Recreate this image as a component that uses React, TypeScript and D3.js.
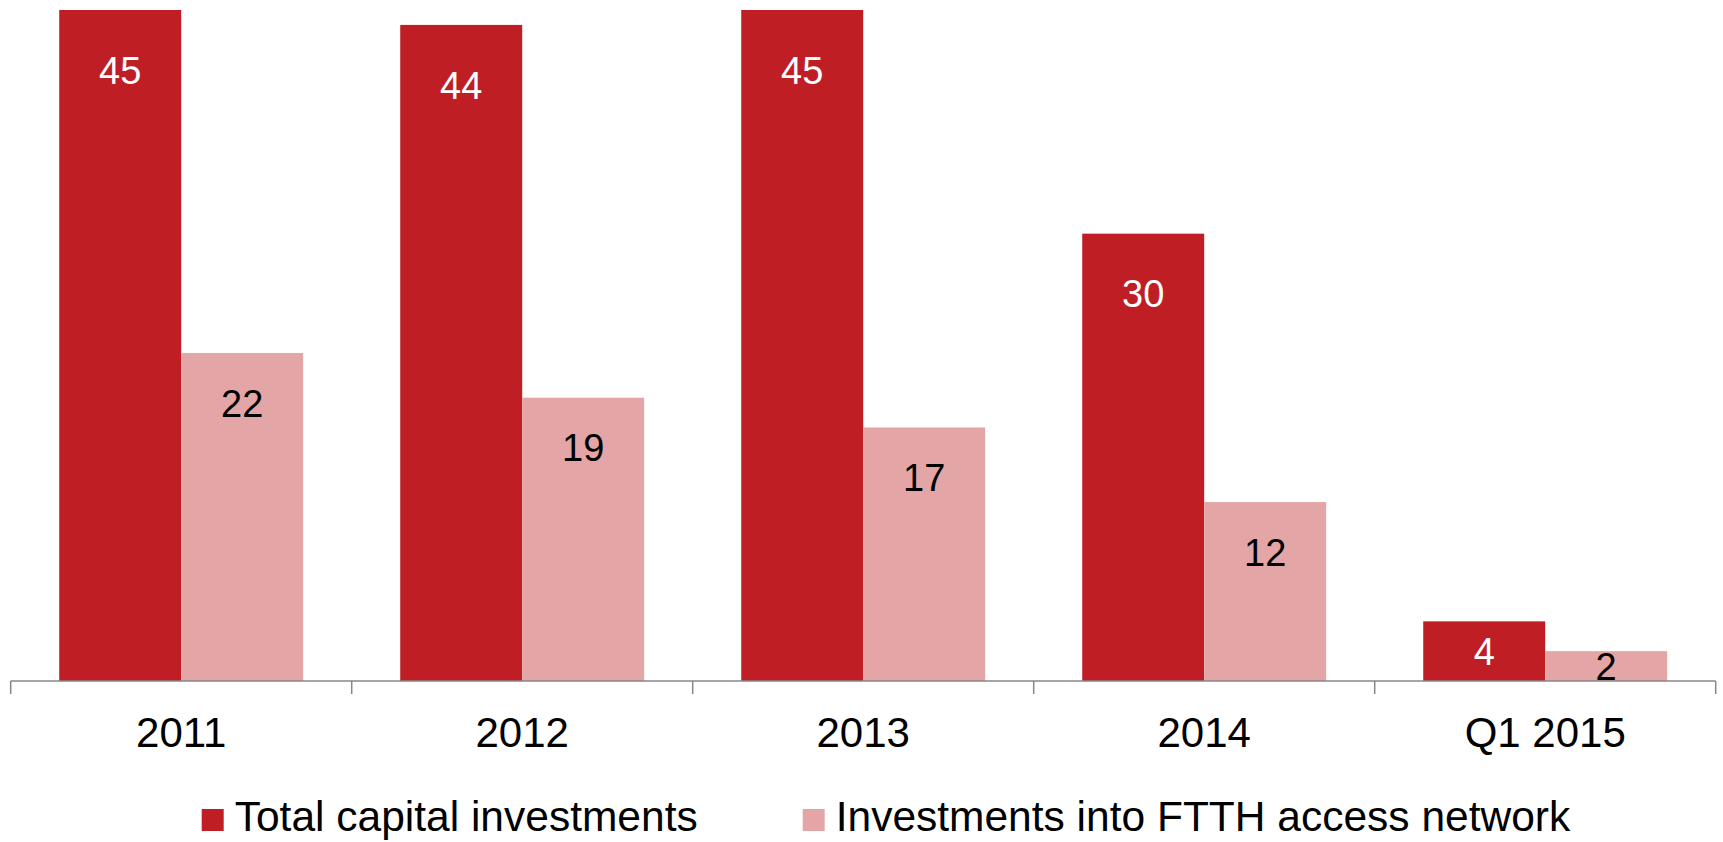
import React, { useEffect, useRef } from "react";
import * as d3 from "d3";

const categories = ["2011", "2012", "2013", "2014", "Q1 2015"];
const totalCapital = [45, 44, 45, 30, 4];
const ftthInvest = [22, 19, 17, 12, 2];
const seriesNames = ["Total capital investments", "Investments into FTTH access network"];

const W = 1723;
const H = 842;
const COLORS = ["#BE1E24", "#E4A5A6"];
const LABEL_COLORS = ["#FFFFFF", "#000000"];
const FONT = "'Liberation Sans', Arial, Helvetica, sans-serif";

export default function App() {
  const ref = useRef<SVGSVGElement | null>(null);

  useEffect(() => {
    const svg = d3.select(ref.current);
    svg.selectAll("*").remove();

    const plotLeft = 10.7;
    const plotRight = 1715.7;
    const axisY = 681;
    const plotTop = 10;

    const x = d3.scaleBand<string>().domain(categories).range([plotLeft, plotRight]).paddingInner(0).paddingOuter(0);
    const xs = d3.scaleBand<number>().domain([0, 1]).range([0, x.bandwidth()]).paddingInner(0).paddingOuter(0.398);
    const y = d3.scaleLinear().domain([0, 45]).range([axisY, plotTop]);

    const series = [totalCapital, ftthInvest];
    const labelOffsets = [60, 50];

    const g = svg.append("g");
    series.forEach((vals, si) => {
      const sg = g.append("g");
      sg.selectAll("rect")
        .data(vals)
        .join("rect")
        .attr("x", (_, i) => (x(categories[i]) as number) + (xs(si) as number))
        .attr("y", (d) => y(d))
        .attr("width", xs.bandwidth())
        .attr("height", (d) => axisY - y(d))
        .attr("fill", COLORS[si]);
      sg.selectAll("text")
        .data(vals)
        .join("text")
        .attr("x", (_, i) => (x(categories[i]) as number) + (xs(si) as number) + xs.bandwidth() / 2)
        .attr("y", (d) => {
          const h = axisY - y(d);
          return y(d) + Math.min(labelOffsets[si], h / 2);
        })
        .attr("dy", "0.36em")
        .attr("text-anchor", "middle")
        .attr("font-family", FONT)
        .attr("font-size", 38)
        .attr("fill", LABEL_COLORS[si])
        .text((d) => String(d));
    });

    // axis
    const ax = svg.append("g");
    ax.append("line")
      .attr("x1", plotLeft)
      .attr("x2", plotRight)
      .attr("y1", axisY)
      .attr("y2", axisY)
      .attr("stroke", "#878787")
      .attr("stroke-width", 1.5);
    const tickXs = categories.map((c) => x(c) as number).concat([plotRight]);
    ax.selectAll("line.tick")
      .data(tickXs)
      .join("line")
      .attr("class", "tick")
      .attr("x1", (d) => d)
      .attr("x2", (d) => d)
      .attr("y1", axisY)
      .attr("y2", axisY + 13)
      .attr("stroke", "#878787")
      .attr("stroke-width", 1.5);
    ax.selectAll("text")
      .data(categories)
      .join("text")
      .attr("x", (d) => (x(d) as number) + x.bandwidth() / 2)
      .attr("y", 746.7)
      .attr("text-anchor", "middle")
      .attr("font-family", FONT)
      .attr("font-size", 42)
      .attr("fill", "#000")
      .text((d) => d);

    // legend
    const lg = svg.append("g");
    let cx = 201.7;
    const sq = 22;
    seriesNames.forEach((name, i) => {
      lg.append("rect").attr("x", cx).attr("y", 809).attr("width", sq).attr("height", sq).attr("fill", COLORS[i]);
      const t = lg
        .append("text")
        .attr("x", cx + sq + 11)
        .attr("y", 831)
        .attr("font-family", FONT)
        .attr("font-size", 42.5)
        .attr("fill", "#000")
        .text(name);
      const tw = (t.node() as SVGTextElement).getComputedTextLength();
      cx = cx + sq + 11 + tw + 105;
    });
  }, []);

  return (
    <svg
      ref={ref}
      width={W}
      height={H}
      style={{ position: "absolute", left: 0, top: 0, background: "#fff" }}
    />
  );
}
